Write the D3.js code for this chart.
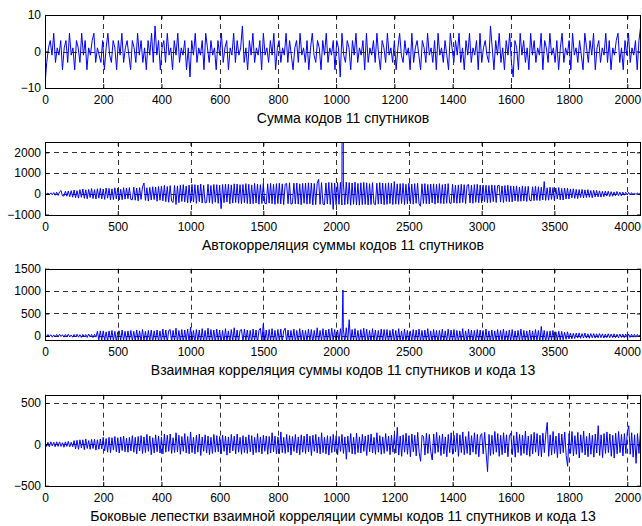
<!DOCTYPE html>
<html>
<head>
  <meta charset="utf-8">
  <title>Сумма кодов 11 спутников</title>
  <script src="https://d3js.org/d3.v7.min.js"></script>
  <style>
    body {
      margin: 0;
      padding: 0;
      background-color: white;
      overflow: hidden;
    }
    svg {
      display: block;
    }
  </style>
</head>
<body>
  <svg width="642" height="526"></svg>

  <script>
    // sum of the 11 codes, one value every 6 samples
    const sumStep = 6;
    const sumValues = [
      -9,-3,1,3,-1,5,-3,1,-1,3,-5,1,3,-3,5,-1,1,-5,3,1,
      -3,5,-1,3,-5,1,-1,3,5,-3,1,-1,-3,3,-5,1,5,-1,-3,3,
      1,-5,3,-1,5,-3,1,3,-1,-5,3,1,-3,5,-1,3,-3,1,-5,3,
      -1,5,-3,7,-1,3,-5,1,3,-3,5,-1,1,-5,3,-1,5,-3,1,-1,
      3,-5,1,-7,3,-1,5,-3,1,-1,3,-5,5,1,-3,3,-1,1,-5,3,
      -1,5,-3,1,3,-5,1,-1,5,-3,3,-1,1,7,-3,1,-5,3,-1,5,
      -3,1,-1,3,-5,5,-1,1,-3,3,-1,5,-5,1,3,-3,1,-1,5,-3,
      3,-1,-5,1,3,-3,5,-1,1,-3,3,-5,1,5,-1,-3,3,1,-5,3,
      -1,5,-3,1,-1,3,-5,3,1,-7,5,-1,-3,3,1,-5,3,-1,5,-3,
      1,-1,3,-5,5,-3,1,-1,3,-3,5,-1,-5,3,1,-3,5,-1,1,-3,
      3,-5,1,5,-1,-3,3,-1,1,-5,5,-3,1,3,-1,-5,3,1,-3,5,
      -1,1,-3,3,-5,5,-1,1,-3,3,-1,-5,5,1,-3,3,-1,5,-3,1,
      -5,3,-1,5,-3,1,-1,3,-5,5,-3,1,3,-1,-3,7,1,-5,3,-1,
      5,-3,1,-5,3,-1,5,-3,-7,3,1,-5,5,-1,3,-3,1,-5,5,-1,
      3,-3,1,-1,5,-5,3,1,-3,5,-1,1,-3,3,-5,1,5,-3,1,-1,
      3,-5,5,-1,1,-3,3,-1,-5,5,1,-3,3,-1,5,-5,1,3,-3,1,
      -1,5,-3,3,-5,1,-1,3,5,-3,1,-5,3,-1,5,-3,1,-1,3,-5,
      3,7
    ];

    // autocorrelation of the sum, one value every 10 lags, main peak at lag 2047
    const autoStep = 10;
    const peakLag = 2047;
    const autoPeak = 22500;
    const autoValues = [
      15,-20,30,-35,45,-50,60,-70,75,-80,90,160,-100,-110,120,-115,130,-140,150,-165,
      180,-190,150,-210,200,-170,230,-220,190,-240,210,-180,250,-230,200,-250,240,-210,260,-245,
      230,-270,280,-210,260,-290,240,-280,290,-250,270,-300,220,-285,295,-260,280,-240,300,-275,
      -290,320,-310,280,-340,300,-270,330,520,-320,290,-350,310,-300,340,-280,330,-360,350,-310,
      370,-340,400,-380,350,-410,390,-360,-420,400,-520,380,-430,410,-370,440,-400,380,-440,420,
      -430,450,-400,440,-460,420,-380,470,-450,410,-440,-420,460,-430,400,-470,450,-410,440,-460,
      420,-720,450,-430,470,-400,460,-480,430,-450,480,-420,470,-460,440,-480,450,-430,490,-470,
      460,-490,430,-480,500,-450,470,-500,440,-470,510,-460,-490,480,-450,500,-480,460,-510,490,
      -470,510,-490,480,-520,460,500,-480,530,-500,-470,510,-490,520,-500,480,-530,500,-460,520,
      -500,530,-480,520,-540,500,-520,490,700,-510,540,-500,-530,520,-490,550,-510,530,-750,520,
      -530,540,-510,550,-540,520,-530,560,-500,540,-550,520,-510,560,-540,500,-550,530,-520,550,
      -510,530,-540,490,-520,540,-480,-530,510,-500,540,-490,520,-530,500,-510,530,-470,510,-520,
      590,-500,480,-510,490,-470,500,-520,460,-490,510,-480,470,-500,490,-460,510,-490,-600,480,
      -470,490,-480,450,-490,470,-440,480,-500,460,-450,490,-470,440,-480,470,-460,490,-440,-470,
      460,-440,420,-460,430,-450,460,-420,440,-470,410,450,-440,420,-460,440,-410,460,-430,420,
      -440,420,-390,410,-430,400,-420,430,-380,410,-420,390,410,-400,380,-420,400,-370,410,-390,
      380,-390,370,-340,380,-370,330,-360,380,-340,350,-370,360,-310,-350,340,-330,360,-320,340,
      -330,320,-300,590,-320,290,-310,320,-270,300,-310,280,-250,300,-290,260,-300,280,-250,270,
      -250,230,-200,240,-220,210,-230,200,-180,210,-200,190,-180,200,-170,160,-190,170,-150,160,
      -150,140,-160,120,-140,130,-110,120,-130,100,-120,90,-100,110,-90,80,-100,80,-70,75,
      -60,65,-50,55,-40,40,-30,30,-20,10
    ];

    // cross-correlation of the sum with code 13, one value every 10 lags
    const crossStep = 10;
    const crossPeak = 1023;
    const crossValues = [
      20,-25,30,-20,25,-30,20,-25,30,-20,35,-15,25,-30,30,-20,35,-25,20,-30,
      30,-25,35,-30,25,-35,30,-20,30,-35,40,-25,30,-40,35,-30,100,-90,110,-100,
      110,-100,90,-120,110,-90,120,-110,100,-120,90,110,-100,130,-110,100,-120,110,-90,120,
      -110,100,-120,130,-100,110,-130,140,-110,100,-130,120,-110,130,-140,110,-100,130,-120,110,
      -130,150,-110,130,-140,120,140,-130,120,-110,170,-140,120,-130,140,-150,130,-110,150,-130,
      190,-140,120,-150,140,-120,130,-150,160,-130,120,-140,170,-130,140,-120,130,-150,150,-110,
      130,-150,120,-140,160,-130,110,-150,140,-120,180,-140,130,-150,120,140,-130,150,-110,130,
      -140,120,-150,150,-110,130,-150,120,170,-130,270,-140,130,-150,140,-110,160,-130,120,-150,
      140,-120,150,-140,110,170,-130,130,-150,120,-110,150,-140,120,-150,160,-120,130,-140,120,
      -130,150,-110,140,-150,120,-130,180,-140,120,-110,160,-150,130,-120,150,-130,170,-110,140,
      -140,130,-120,160,-130,150,-140,180,-130,360,-150,140,-110,160,-130,120,-150,140,-120,170,
      -130,150,-140,120,-140,160,-110,130,-150,120,-120,150,-130,140,-110,140,-150,120,-120,150,
      -140,120,-150,160,-120,110,-140,150,-130,120,-150,110,-120,140,-140,130,-110,150,-120,120,
      -140,130,-120,160,-130,110,-150,140,-120,120,-150,120,-110,150,-140,110,-130,150,-120,130,
      -110,140,-150,120,-130,110,-120,160,-140,110,-140,150,-110,130,-150,120,-130,140,-110,130,
      -140,120,-130,150,-120,110,-150,130,-130,110,-120,140,-140,120,-110,150,-140,110,-130,130,
      -120,140,-130,110,-130,120,-110,150,-140,120,-120,110,-110,130,-130,110,-120,140,-110,120,
      -130,210,-110,120,-130,100,-120,110,-100,120,-110,90,-100,100,-90,100,-90,80,-80,90,
      -70,60,-70,55,-60,60,-50,65,-55,50,-50,60,-50,45,-55,50,-45,50,-50,45,
      -45,50,-40,45,-50,40,-40,45,-45,40,-40,45,-40,35,-45,40,-35,40,-40,40,
      -35,40,-35,35,-30,35,-30,30,-25,30
    ];

    // side lobes of the cross-correlation, one value every 5 lags, peak at the end
    const sideStep = 5;
    const sidePeak = 1023;
    const sideValues = [
      20,-25,25,-30,30,-20,25,-30,30,-25,30,-25,20,-35,30,-25,35,-30,25,-30,
      45,-55,50,-60,55,-45,55,-65,65,-50,45,-60,60,-50,60,-70,55,-60,65,-55,
      85,-80,70,-95,85,-100,80,-70,95,-90,80,-105,90,-75,100,-90,75,-95,85,-80,
      105,-95,85,-115,95,-80,105,-110,90,-100,120,-85,100,-125,80,-105,115,-90,100,-105,
      90,-115,125,-95,110,-85,125,-110,80,-100,140,-90,110,-120,95,-85,130,-105,95,-115,
      150,-100,85,-115,110,-95,125,-135,90,-85,115,-105,100,-125,85,-110,120,-95,105,-90,
      95,-115,110,-85,100,-130,90,-105,120,-80,100,-115,125,-95,85,-120,105,-100,90,-110,
      115,-90,105,-125,85,-100,130,-95,90,-115,110,-85,100,-120,95,-105,140,-90,100,-115,
      90,-115,150,-100,85,-110,120,-95,105,-130,95,-85,120,-105,90,-125,115,-95,100,-110,
      125,-90,100,-135,110,-85,120,-105,90,-115,140,-100,85,-115,105,-130,95,-100,120,-90,
      105,-125,95,-85,120,-110,90,-180,100,-95,130,-115,85,-120,135,-100,90,-105,120,-85,
      100,-135,115,-90,125,-105,85,-120,140,-95,105,-120,90,-110,130,-85,100,-125,110,-95,
      120,-105,205,-130,100,-145,115,-95,135,-120,105,-150,125,-90,110,-140,145,-100,-205,110,
      95,-130,135,-110,120,-90,-190,125,-110,145,-95,105,-135,125,-115,90,-150,120,-100,140,
      -120,110,-90,135,-145,115,-100,150,-125,95,-110,155,-130,105,-95,140,-120,120,-150,100,
      130,-115,145,-100,-330,120,-135,110,-120,155,-95,130,-145,110,-125,140,-105,115,-150,100,
      135,-125,105,-155,150,-100,120,-135,110,-110,160,-130,100,-145,120,-115,145,-95,130,-140,
      110,-150,135,-100,120,265,-145,115,-130,155,-110,100,-160,135,-115,125,-100,150,-135,-265,
      130,-110,155,-140,105,-120,145,-165,115,-100,160,-130,95,-150,135,-120,110,-155,125,-105,
      225,-135,115,-160,130,-110,150,-100,125,-145,110,-165,135,-115,155,-100,120,-140,130,-110,
      150,225,-120,140,-155,115,-230,130,-110,160
    ];

    // tick labels
    const ticks2048 = [0, 200, 400, 600, 800, 1000, 1200, 1400, 1600, 1800, 2000];
    const ticks4096 = [0, 500, 1000, 1500, 2000, 2500, 3000, 3500, 4000];
    const sumYTicks = [-10, 0, 10];
    const autoYTicks = [-1000, 0, 1000, 2000];
    const crossYTicks = [0, 500, 1000, 1500];
    const sideYTicks = [-500, 0, 500];

    const labels = [
      "Сумма кодов 11 спутников",
      "Автокорреляция суммы кодов 11 спутников",
      "Взаимная корреляция суммы кодов 11 спутников и кода 13",
      "Боковые лепестки взаимной корреляции суммы кодов 11 спутников и кода 13"
    ];

    const svg = d3.select("svg");
    const left = 45, right = 641;
    const font = "Liberation Sans, Arial, sans-serif";

    // samples -> [lag, value], with an optional peak slotted in at its lag
    function toPoints(values, step, peak) {
      const pts = values.map((v, i) => [i * step, v]);
      if (peak) {
        pts.push(peak);
        pts.sort((a, b) => a[0] - b[0]);
      }
      return pts;
    }

    function panel(cfg, idx) {
      const x = d3.scaleLinear().domain(cfg.xDomain).range([left, right]);
      const y = d3.scaleLinear().domain(cfg.yDomain).range([cfg.bottom, cfg.top]);
      const g = svg.append("g");
      const clipId = "clip" + idx;
      const fmt = d3.format("d");

      g.append("clipPath").attr("id", clipId)
        .append("rect")
          .attr("x", left).attr("y", cfg.top)
          .attr("width", right - left).attr("height", cfg.bottom - cfg.top);

      // dashed grid
      g.append("g").selectAll("line")
        .data(cfg.xTicks)
        .join("line")
          .attr("x1", d => Math.round(x(d)) + 0.5).attr("x2", d => Math.round(x(d)) + 0.5)
          .attr("y1", cfg.top).attr("y2", cfg.bottom)
          .attr("stroke", "#333").attr("stroke-dasharray", "5,4");
      g.append("g").selectAll("line")
        .data(cfg.yTicks)
        .join("line")
          .attr("x1", left).attr("x2", right)
          .attr("y1", d => Math.round(y(d)) + 0.5).attr("y2", d => Math.round(y(d)) + 0.5)
          .attr("stroke", "#333").attr("stroke-dasharray", "5,4");

      g.append("path")
        .datum(cfg.points)
        .attr("clip-path", "url(#" + clipId + ")")
        .attr("fill", "none")
        .attr("stroke", "#0000ff")
        .attr("stroke-width", 1)
        .attr("d", d3.line().x(d => x(d[0])).y(d => y(d[1])));

      g.append("rect")
        .attr("x", left + 0.5).attr("y", Math.round(cfg.top) + 0.5)
        .attr("width", right - left - 1).attr("height", Math.round(cfg.bottom) - Math.round(cfg.top))
        .attr("fill", "none").attr("stroke", "black");

      const xAxis = g.append("g")
        .attr("transform", "translate(0," + Math.round(cfg.bottom) + ")")
        .call(d3.axisBottom(x).tickValues(cfg.xTicks).tickFormat(fmt)
          .tickSizeInner(-4).tickSizeOuter(0).tickPadding(7));
      const yAxis = g.append("g")
        .attr("transform", "translate(" + left + ",0)")
        .call(d3.axisLeft(y).tickValues(cfg.yTicks).tickFormat(fmt)
          .tickSizeInner(-4).tickSizeOuter(0).tickPadding(4));
      g.append("g")
        .attr("transform", "translate(0," + Math.round(cfg.top) + ")")
        .call(d3.axisTop(x).tickValues(cfg.xTicks).tickSizeInner(-4).tickSizeOuter(0).tickFormat(""));
      g.append("g")
        .attr("transform", "translate(" + right + ",0)")
        .call(d3.axisRight(y).tickValues(cfg.yTicks).tickSizeInner(-4).tickSizeOuter(0).tickFormat(""));

      g.selectAll(".domain").remove();
      [xAxis, yAxis].forEach(a => a.attr("font-family", font).attr("font-size", 12));

      g.append("text")
        .attr("x", (left + right) / 2)
        .attr("y", cfg.bottom + 35)
        .attr("text-anchor", "middle")
        .attr("font-family", font)
        .attr("font-size", 14)
        .attr("fill", "black")
        .text(cfg.label);
    }

    [
      { top: 15, bottom: 88, xDomain: [0, 2047], yDomain: [-10, 10],
        xTicks: ticks2048, yTicks: sumYTicks, label: labels[0],
        points: toPoints(sumValues, sumStep) },
      { top: 142, bottom: 214.5, xDomain: [0, 4095], yDomain: [-1000, 2500],
        xTicks: ticks4096, yTicks: autoYTicks, label: labels[1],
        points: toPoints(autoValues, autoStep, [peakLag, autoPeak]) },
      { top: 268.7, bottom: 340.3, xDomain: [0, 4095], yDomain: [-100, 1500],
        xTicks: ticks4096, yTicks: crossYTicks, label: labels[2],
        points: toPoints(crossValues, crossStep, [peakLag, crossPeak]) },
      { top: 394.7, bottom: 485.7, xDomain: [0, 2047], yDomain: [-500, 600],
        xTicks: ticks2048, yTicks: sideYTicks, label: labels[3],
        points: toPoints(sideValues, sideStep, [peakLag, sidePeak]) }
    ].forEach(panel);
  </script>
</body>
</html>
